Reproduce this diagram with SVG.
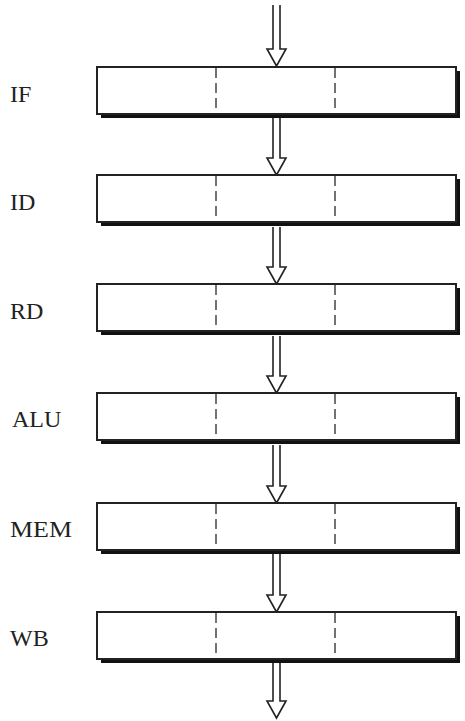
<svg xmlns="http://www.w3.org/2000/svg" width="465" height="721" viewBox="0 0 465 721">
<style>
.shadow{fill:#111;stroke:none}
.box{fill:#fff;stroke:#222;stroke-width:2}
.div{stroke:#444;stroke-width:1.5;stroke-dasharray:10,5;fill:none}
.lbl{font-family:"Liberation Serif","Times New Roman",serif;font-size:24px;fill:#222}
.arrow{fill:#fff;stroke:#222;stroke-width:1.6;stroke-linejoin:miter}
</style>
<rect width="465" height="721" fill="#fff"/>
<g id="connectors">
<path class="arrow" d="M273,5 V49 H267 L276.5,66 L286,49 H280 V5"/>
<path class="arrow" d="M273,118 V158 H267 L276.5,175 L286,158 H280 V118"/>
<path class="arrow" d="M273,227 V267 H267 L276.5,284 L286,267 H280 V227"/>
<path class="arrow" d="M273,336 V376 H267 L276.5,393 L286,376 H280 V336"/>
<path class="arrow" d="M273,445 V486 H267 L276.5,503 L286,486 H280 V445"/>
<path class="arrow" d="M273,554 V595 H267 L276.5,612 L286,595 H280 V554"/>
<path class="arrow" d="M273,663 V701 H267 L276.5,718 L286,701 H280 V663"/>
</g>
<g id="IF">
<rect class="shadow" x="101" y="71" width="359" height="47"/>
<rect class="box" x="97" y="67" width="359" height="47"/>
<line class="div" x1="216" y1="68" x2="216" y2="113"/>
<line class="div" x1="335" y1="68" x2="335" y2="113"/>
<text class="lbl" x="10" y="102">IF</text>
</g>
<g id="ID">
<rect class="shadow" x="101" y="179" width="359" height="47"/>
<rect class="box" x="97" y="175" width="359" height="47"/>
<line class="div" x1="216" y1="176" x2="216" y2="221"/>
<line class="div" x1="335" y1="176" x2="335" y2="221"/>
<text class="lbl" x="10" y="210">ID</text>
</g>
<g id="RD">
<rect class="shadow" x="101" y="288" width="359" height="47"/>
<rect class="box" x="97" y="284" width="359" height="47"/>
<line class="div" x1="216" y1="285" x2="216" y2="330"/>
<line class="div" x1="335" y1="285" x2="335" y2="330"/>
<text class="lbl" x="10" y="319">RD</text>
</g>
<g id="ALU">
<rect class="shadow" x="101" y="397" width="359" height="47"/>
<rect class="box" x="97" y="393" width="359" height="47"/>
<line class="div" x1="216" y1="394" x2="216" y2="439"/>
<line class="div" x1="335" y1="394" x2="335" y2="439"/>
<text class="lbl" x="12" y="427">ALU</text>
</g>
<g id="MEM">
<rect class="shadow" x="101" y="507" width="359" height="47"/>
<rect class="box" x="97" y="503" width="359" height="47"/>
<line class="div" x1="216" y1="504" x2="216" y2="549"/>
<line class="div" x1="335" y1="504" x2="335" y2="549"/>
<text class="lbl" x="10" y="537" textLength="62" lengthAdjust="spacingAndGlyphs">MEM</text>
</g>
<g id="WB">
<rect class="shadow" x="101" y="616" width="359" height="47"/>
<rect class="box" x="97" y="612" width="359" height="47"/>
<line class="div" x1="216" y1="613" x2="216" y2="658"/>
<line class="div" x1="335" y1="613" x2="335" y2="658"/>
<text class="lbl" x="10" y="646">WB</text>
</g>
</svg>
